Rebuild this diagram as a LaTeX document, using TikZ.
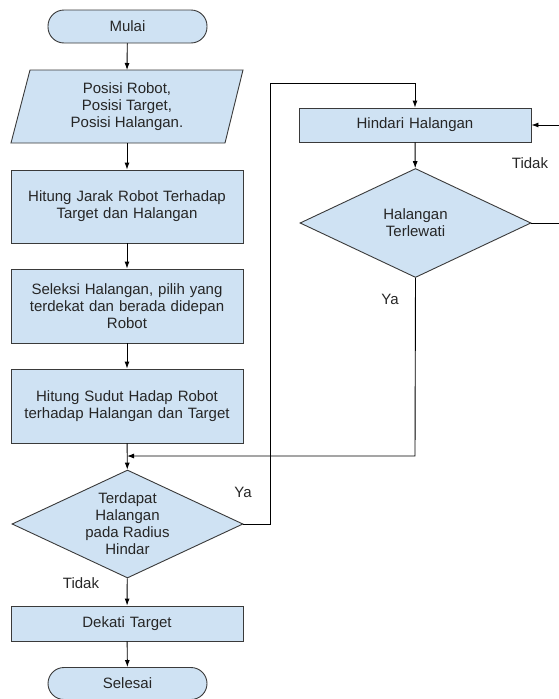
\documentclass[tikz,border=0pt]{standalone}
\usepackage{fontspec}
\setmainfont{Liberation Sans}
\usetikzlibrary{shapes.geometric,arrows.meta}
\definecolor{boxfill}{HTML}{CFE2F3}
\definecolor{edge}{HTML}{3A3A3A}
\definecolor{txt}{HTML}{262626}
\tikzset{
  base/.style={fill=boxfill,draw=edge,line width=0.9pt,text=txt,align=center,inner sep=0pt,
    font=\fontsize{15}{17}\selectfont},
  term/.style={base,rounded corners=16pt,minimum width=159pt},
  proc/.style={base,minimum width=232pt,text width=226pt},
  dec/.style={base,diamond,aspect=2.14,minimum width=231pt,minimum height=108pt},
  lbl/.style={text=txt,font=\fontsize{15}{17}\selectfont,inner sep=0pt},
  conn/.style={draw=black,line width=0.9pt,-{Latex[length=7pt,width=5pt]}},
  line/.style={draw=black,line width=0.9pt}
}
\begin{document}
\begin{tikzpicture}[x=1pt,y=-1pt]
\useasboundingbox (0,0) rectangle (559,699);
% left column
\node[term,minimum height=33pt] (mulai) at (127.5,26.5) {Mulai};
\draw[base] (30,70) -- (243,70) -- (225,143) -- (11,143) -- cycle;
\node[lbl,minimum width=200pt,minimum height=73pt,align=center] (inp) at (127,106.5) {Posisi Robot,\\Posisi Target,\\Posisi Halangan.};
\node[proc,minimum height=73pt] (b1) at (127,206.5) {Hitung Jarak Robot Terhadap\\Target dan Halangan};
\node[proc,minimum height=74pt] (b2) at (127,306) {Seleksi Halangan, pilih yang\\terdekat dan berada didepan\\Robot};
\node[proc,minimum height=74pt] (b3) at (127,406) {Hitung Sudut Hadap Robot\\terhadap Halangan dan Target};
\node[dec] (d1) at (127.5,524) {Terdapat\\Halangan\\pada Radius\\Hindar};
\node[proc,minimum height=35pt] (dek) at (127,623.5) {Dekati Target};
\node[term,minimum height=32pt] (sel) at (127.5,683.5) {Selesai};
% right column
\node[proc,minimum height=34pt] (hin) at (415,125) {Hindari Halangan};
\node[dec,minimum height=109pt] (d2) at (415.5,223) {Halangan\\Terlewati};
% coordinates
\coordinate (j) at (127,456);
\coordinate (ya1a) at (270,524);
\coordinate (ya1b) at (270,83);
\coordinate (ya1c) at (415,83);
\coordinate (td2a) at (562,223);
\coordinate (td2b) at (562,125);
\coordinate (ya2a) at (415,456);
% connectors
\draw[conn] (mulai) -- (inp.north |- 0,70);
\draw[conn] (inp.south |- 0,143) -- (b1);
\draw[conn] (b1) -- (b2);
\draw[conn] (b2) -- (b3);
\draw[conn] (b3) -- (d1);
\draw[conn] (d1) -- (dek);
\draw[conn] (dek) -- (sel);
\draw[conn] (d1.east) -- (ya1a) -- (ya1b) -- (ya1c) -- (hin.north);
\draw[conn] (hin) -- (d2);
\draw[conn] (d2.east) -- (td2a) -- (td2b) -- (hin.east);
\draw[conn] (d2.south) -- (ya2a) -- (j);
% labels
\node[lbl] (l1) at (243,492) {Ya};
\node[lbl] (l2) at (81,583) {Tidak};
\node[lbl] (l3) at (530,163) {Tidak};
\node[lbl] (l4) at (390,299) {Ya};
\end{tikzpicture}
\end{document}
